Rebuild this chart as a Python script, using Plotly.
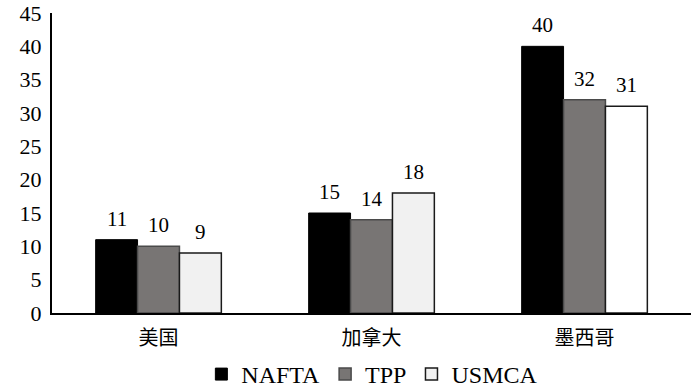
import plotly.graph_objects as go

categories = ["美国", "加拿大", "墨西哥"]
nafta = [11, 15, 40]
tpp = [10, 14, 32]
usmca = [9, 18, 31]
y_ticks = [0, 5, 10, 15, 20, 25, 30, 35, 40, 45]

font_family = "Liberation Serif, Times New Roman, Noto Sans CJK SC, serif"

W, H = 696, 388
ML, MR, MT, MB = 52, 5, 13, 75
BARGAP = 0.41

series = [
    ("NAFTA", nafta, dict(color="#000000", line=dict(color="#000000", width=1))),
    ("TPP", tpp, dict(color="#787574", line=dict(color="#4a4a4a", width=1.5))),
    ("USMCA", usmca, dict(color=["#f1f1f1", "#f1f1f1", "#ffffff"], line=dict(color="#1a1a1a", width=1.5))),
]

fig = go.Figure()
for name, vals, marker in series:
    fig.add_trace(go.Bar(name=name, x=categories, y=vals, marker=marker))

# value labels placed above each bar (offset from group centre derived from bar layout)
cat_px = (W - ML - MR) / len(categories)
bar_px = cat_px * (1 - BARGAP) / len(series)
annotations = []
for si, (name, vals, _) in enumerate(series):
    shift = (si - (len(series) - 1) / 2) * bar_px
    for c, v in zip(categories, vals):
        annotations.append(dict(
            x=c, y=v, xref="x", yref="y", text=str(v), showarrow=False,
            xshift=shift, yshift=7, yanchor="bottom",
            font=dict(family=font_family, size=21, color="#000000"),
        ))

fig.update_layout(
    width=W, height=H,
    barmode="group", bargap=BARGAP, bargroupgap=0.0,
    plot_bgcolor="white", paper_bgcolor="white",
    margin=dict(l=ML, r=MR, t=MT, b=MB, autoexpand=False),
    font=dict(family=font_family, size=20, color="#000000"),
    annotations=annotations,
    showlegend=True,
    legend=dict(orientation="h", x=0.535, xanchor="center", xref="container",
                y=-0.205, yanchor="middle", yref="paper",
                font=dict(family=font_family, size=24, color="#000000"),
                itemwidth=30, tracegroupgap=0),
    xaxis=dict(showline=True, linecolor="#000000", linewidth=2, ticks="",
               tickfont=dict(family=font_family, size=20), showgrid=False,
               ticklabelstandoff=6),
    yaxis=dict(range=[0, 45], tickvals=y_ticks, showline=True, linecolor="#000000",
               linewidth=2, ticks="", showgrid=False, zeroline=False,
               tickfont=dict(family=font_family, size=22), ticklabelstandoff=4),
)

fig.write_html("out.html", config={"displayModeBar": False},
               post_script="document.body.style.margin='0';document.body.style.overflow='hidden';")
